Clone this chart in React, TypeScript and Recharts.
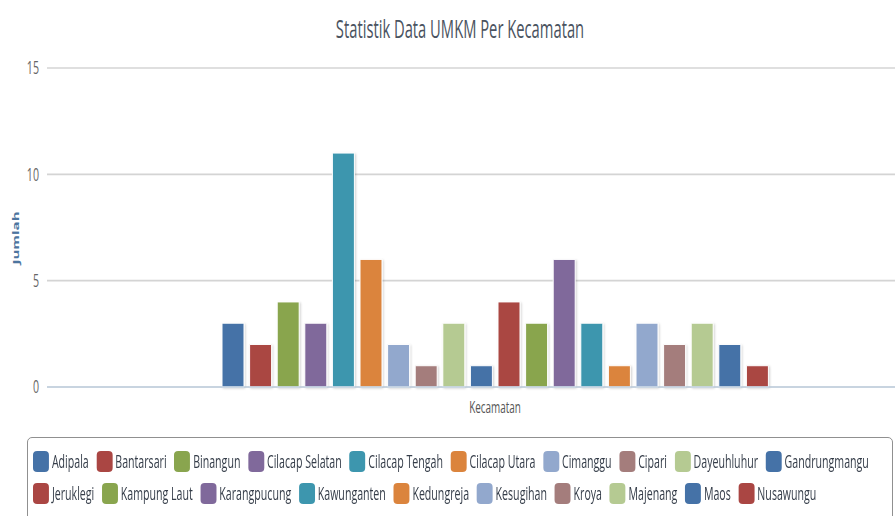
import React from "react";
import { BarChart, Bar, XAxis, YAxis, CartesianGrid, Rectangle } from "recharts";

const kecamatan = [
  "Adipala", "Bantarsari", "Binangun", "Cilacap Selatan", "Cilacap Tengah",
  "Cilacap Utara", "Cimanggu", "Cipari", "Dayeuhluhur", "Gandrungmangu",
  "Jeruklegi", "Kampung Laut", "Karangpucung", "Kawunganten", "Kedungreja",
  "Kesugihan", "Kroya", "Majenang", "Maos", "Nusawungu",
];

const jumlah = [3, 2, 4, 3, 11, 6, 2, 1, 3, 1, 4, 3, 6, 3, 1, 3, 2, 3, 2, 1];

const yTicks = [0, 5, 10, 15];

const PALETTE = [
  "#4572A7", "#AA4643", "#89A54E", "#80699B", "#3D96AE",
  "#DB843D", "#92A8CD", "#A47D7C", "#B5CA92",
];

const FONT = "'Open Sans', 'Noto Sans', sans-serif";
// the reference is squeezed horizontally, so every text is narrowed by this much
const SQ = 0.59;

const row: Record<string, string | number> = { name: "Kecamatan" };
kecamatan.forEach((k, i) => {
  row[k] = jumlah[i];
});
const chartData = [row];

const colorOf = (i: number) => PALETTE[i % PALETTE.length];

function ShadowBar(props: any) {
  return <Rectangle {...props} stroke="#fff" strokeWidth={1} filter="url(#colShadow)" />;
}

function YTick({ x, y, payload }: any) {
  return (
    <text
      transform={`translate(${x},${y}) scale(${SQ},1)`}
      textAnchor="end"
      dy="0.36em"
      fill="#666"
      fontSize={18}
      fontFamily={FONT}
    >
      {payload.value}
    </text>
  );
}

function XTick({ x, y, payload }: any) {
  return (
    <text
      transform={`translate(${x},${y}) scale(${SQ + 0.03},1)`}
      textAnchor="middle"
      dy="0.75em"
      fill="#555"
      fontSize={16}
      fontFamily={FONT}
    >
      {payload.value}
    </text>
  );
}

function LegendBox() {
  const rows = [kecamatan.slice(0, 10), kecamatan.slice(10)];
  return (
    <div
      style={{
        position: "absolute",
        left: 27,
        top: 437,
        width: 866,
        height: 100,
        border: "1px solid #909090",
        borderRadius: 5,
        boxSizing: "border-box",
      }}
    >
      <div
        style={{
          position: "absolute",
          left: 5,
          top: 7,
          transform: `scaleX(${SQ})`,
          transformOrigin: "left top",
          fontFamily: FONT,
          fontSize: 18,
          color: "#353d49",
          whiteSpace: "nowrap",
        }}
      >
        {rows.map((r, ri) => (
          <div key={ri} style={{ display: "flex", alignItems: "center", height: 32 }}>
            {r.map((k, j) => {
              const i = ri * 10 + j;
              return (
                <div key={k} style={{ display: "flex", alignItems: "center", marginRight: 13 }}>
                  <span
                    style={{
                      display: "inline-block",
                      width: 27,
                      height: 21,
                      borderRadius: "7px / 4px",
                      background: colorOf(i),
                      marginRight: 5,
                    }}
                  />
                  <span>{k}</span>
                </div>
              );
            })}
          </div>
        ))}
      </div>
    </div>
  );
}

export default function App() {
  return (
    <div
      style={{
        position: "absolute",
        left: 0,
        top: 0,
        width: 895,
        height: 516,
        overflow: "hidden",
        background: "#fff",
      }}
    >
      <div style={{ position: "absolute", left: 0, top: 0 }}>
        <BarChart
          width={943}
          height={420}
          data={chartData}
          margin={{ top: 68, right: 0, left: 0, bottom: 0 }}
          barCategoryGap={175}
          barGap={5.6}
        >
          <defs>
            <filter id="colShadow" x="-30%" y="-10%" width="160%" height="130%">
              <feDropShadow dx="1" dy="1" stdDeviation="1.2" floodColor="#000" floodOpacity="0.18" />
            </filter>
          </defs>
          <text
            transform={`translate(460,38) scale(${SQ},1)`}
            textAnchor="middle"
            fill="#4a5360"
            fontSize={25}
            fontFamily={FONT}
          >
            Statistik Data UMKM Per Kecamatan
          </text>
          <CartesianGrid vertical={false} stroke="#d4d4d4" strokeWidth={1.6} />
          <XAxis
            dataKey="name"
            height={33}
            tickLine={false}
            axisLine={{ stroke: "#C0D0E0", strokeWidth: 1.6 }}
            tick={<XTick />}
            tickMargin={8}
          />
          <YAxis
            width={47}
            domain={[0, 15]}
            ticks={yTicks}
            tickLine={false}
            axisLine={false}
            tickSize={0}
            tickMargin={8}
            tick={<YTick />}
          />
          {kecamatan.map((k, i) => (
            <Bar
              key={k}
              dataKey={k}
              name={k}
              fill={colorOf(i)}
              shape={<ShadowBar />}
              isAnimationActive={false}
            />
          ))}
          <text
            transform={`translate(19,238) scale(${SQ},1) rotate(-90)`}
            textAnchor="middle"
            fill="#4d759e"
            fontSize={15}
            fontWeight="bold"
            fontFamily={FONT}
          >
            Jumlah
          </text>
        </BarChart>
      </div>
      <LegendBox />
    </div>
  );
}
